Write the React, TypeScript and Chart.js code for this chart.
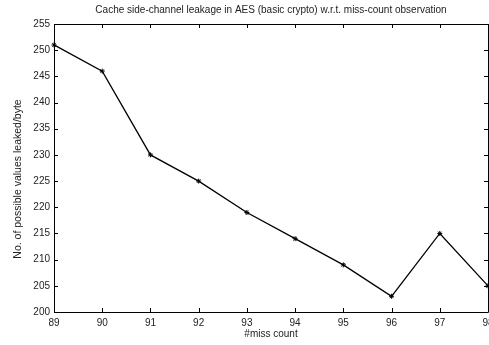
import React, { useEffect, useRef } from "react";
import { Chart, registerables } from "chart.js";

Chart.register(...registerables);

const missCounts = [89, 90, 91, 92, 93, 94, 95, 96, 97, 98];
const leakedValues = [251, 246, 230, 225, 219, 214, 209, 203, 215, 205];
const yTicks = [200, 205, 210, 215, 220, 225, 230, 235, 240, 245, 250, 255];
const xTicks = [89, 90, 91, 92, 93, 94, 95, 96, 97, 98];
const titleText = "Cache side-channel leakage in AES (basic crypto) w.r.t. miss-count observation";
const xLabel = "#miss count";
const yLabel = "No. of possible values leaked/byte";

const FONT = "'Liberation Sans', Arial, sans-serif";

const frameTicks = {
  id: "frameTicks",
  afterDraw(chart: any) {
    const { ctx, chartArea: a, scales } = chart;
    const len = 4;
    ctx.save();
    ctx.strokeStyle = "#000";
    ctx.lineWidth = 1;
    ctx.beginPath();
    ctx.rect(Math.round(a.left) + 0.5, Math.round(a.top) + 0.5, Math.round(a.right - a.left), Math.round(a.bottom - a.top));
    for (const v of xTicks) {
      const x = Math.round(scales.x.getPixelForValue(v)) + 0.5;
      ctx.moveTo(x, a.bottom);
      ctx.lineTo(x, a.bottom - len);
      ctx.moveTo(x, a.top);
      ctx.lineTo(x, a.top + len);
    }
    for (const v of yTicks) {
      const y = Math.round(scales.y.getPixelForValue(v)) + 0.5;
      ctx.moveTo(a.left, y);
      ctx.lineTo(a.left + len, y);
      ctx.moveTo(a.right, y);
      ctx.lineTo(a.right - len, y);
    }
    ctx.stroke();

    ctx.fillStyle = "#222";
    ctx.textAlign = "center";
    ctx.textBaseline = "middle";
    const cx = (a.left + a.right) / 2;
    ctx.font = `10px ${FONT}`;
    ctx.fillText(titleText, cx, 10);
    ctx.fillText(xLabel, cx, 334);
    ctx.save();
    ctx.translate(18, 179);
    ctx.rotate(-Math.PI / 2);
    ctx.font = `10.5px ${FONT}`;
    ctx.fillText(yLabel, 0, 0);
    ctx.restore();
    ctx.restore();
  },
};

export default function App() {
  const ref = useRef<HTMLCanvasElement>(null);
  useEffect(() => {
    const chart = new Chart(ref.current!, {
      type: "line",
      data: {
        datasets: [
          {
            data: missCounts.map((x, i) => ({ x, y: leakedValues[i] })),
            borderColor: "#000",
            backgroundColor: "#000",
            borderWidth: 1.3,
            pointStyle: "star",
            pointRadius: 2.5,
            pointBorderWidth: 1,
            tension: 0,
            clip: false as any,
          },
        ],
      },
      options: {
        responsive: false,
        animation: false,
        layout: { padding: { left: 0, right: 32, top: 24, bottom: 0 } },
        plugins: {
          legend: { display: false },
          tooltip: { enabled: false },
          title: { display: false },
        },
        scales: {
          x: {
            type: "linear",
            min: 89,
            max: 98,
            afterBuildTicks: (s: any) => {
              s.ticks = xTicks.map((v) => ({ value: v }));
            },
            afterFit: (s: any) => {
              s.height = 33;
            },
            grid: { display: false, drawTicks: false },
            border: { display: false },
            ticks: {
              color: "#222",
              padding: 5,
              maxRotation: 0,
              autoSkip: false,
              font: { family: FONT, size: 10 },
            },
          },
          y: {
            type: "linear",
            min: 200,
            max: 255,
            afterBuildTicks: (s: any) => {
              s.ticks = yTicks.map((v) => ({ value: v }));
            },
            afterFit: (s: any) => {
              s.width = 54;
            },
            grid: { display: false, drawTicks: false },
            border: { display: false },
            ticks: {
              color: "#222",
              padding: 4,
              autoSkip: false,
              font: { family: FONT, size: 10 },
            },
          },
        },
      },
      plugins: [frameTicks],
    });
    return () => chart.destroy();
  }, []);
  return (
    <div style={{ position: "fixed", left: 0, top: 0, width: 489, height: 345, overflow: "hidden", background: "#fff" }}>
      <canvas ref={ref} width={520} height={345} style={{ display: "block" }} />
    </div>
  );
}
